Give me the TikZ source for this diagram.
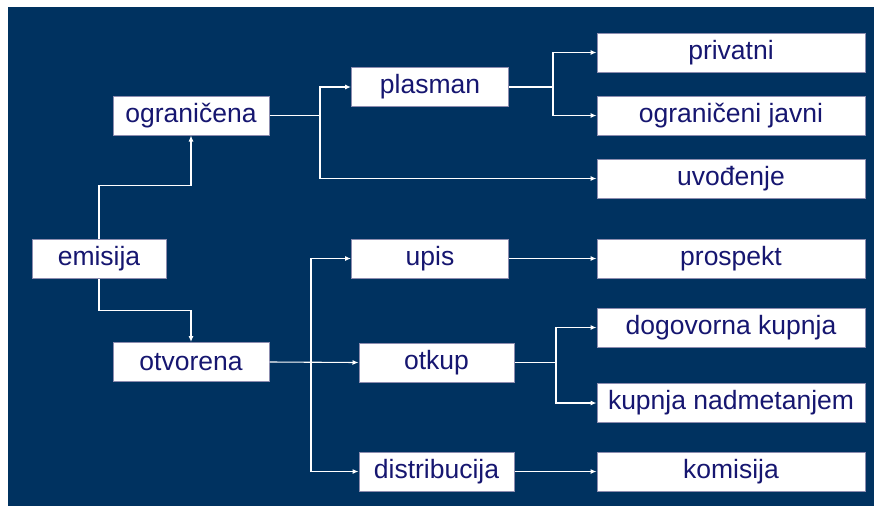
\documentclass[tikz,border=0pt]{standalone}
\usepackage{fontspec}
\setmainfont{Liberation Sans}
\usetikzlibrary{arrows.meta}
\definecolor{navy}{RGB}{0,50,96}
\definecolor{ink}{RGB}{22,22,112}
\definecolor{rim}{RGB}{140,140,175}

\begin{document}
\begin{tikzpicture}[x=1pt,y=-1pt,
  box/.style={draw=rim,line width=1pt,fill=white,text=ink,inner sep=0pt,minimum height=39pt,font=\fontsize{26.5}{30}\selectfont},
  link/.style={draw=white,line width=1.1pt,-{Latex[length=6pt,width=5pt]}},
  line/.style={draw=white,line width=1.1pt}]
\useasboundingbox(0,0)rectangle(874,506);
\path[draw=none,fill=navy](8,7)rectangle(874,506);
\node[box,minimum width=134pt](emisija)at(99,258.5){emisija};
\node[box,minimum width=156pt](ogr)at(191,115.5){ograničena};
\node[box,minimum width=156pt](otv)at(191,362){otvorena};
\node[box,minimum width=157pt](plasman)at(430,87){plasman};
\node[box,minimum width=157pt](upis)at(430,258.5){upis};
\node[box,minimum width=155pt](otkup)at(436.5,362.5){otkup};
\node[box,minimum width=155pt](distr)at(436.5,471.5){distribucija};
\node[box,minimum width=268pt](priv)at(731,52.5){privatni};
\node[box,minimum width=268pt](ogrj)at(731,115.5){ograničeni javni};
\node[box,minimum width=268pt](uvod)at(731,178.5){uvođenje};
\node[box,minimum width=268pt](prosp)at(731,258.5){prospekt};
\node[box,minimum width=268pt](dogk)at(731,327.5){dogovorna kupnja};
\node[box,minimum width=268pt](kupn)at(731,403){kupnja nadmetanjem};
\node[box,minimum width=268pt](kom)at(731,471.5){komisija};
\coordinate(j1)at(320,115.5);
\coordinate(j2)at(553,87);
\coordinate(j3)at(311,362);
\coordinate(j4)at(556,362.5);
\draw[link](emisija.north)--++(0,-53)-|(ogr.south);
\draw[link](emisija.south)--++(0,32)-|(otv.north);
\draw[line](ogr.east)--(j1);
\draw[link](j1)|-(plasman.west);
\draw[link](j1)|-(uvod.west);
\draw[line](plasman.east)--(j2);
\draw[link](j2)|-(priv.west);
\draw[link](j2)|-(ogrj.west);
\draw[link](otv.east)--(otkup.west);
\draw[link](j3)|-(upis.west);
\draw[link](j3)|-(distr.west);
\draw[link](upis.east)--(prosp.west);
\draw[line](otkup.east)--(j4);
\draw[link](j4)|-(dogk.west);
\draw[link](j4)|-(kupn.west);
\draw[link](distr.east)--(kom.west);
\end{tikzpicture}
\end{document}
